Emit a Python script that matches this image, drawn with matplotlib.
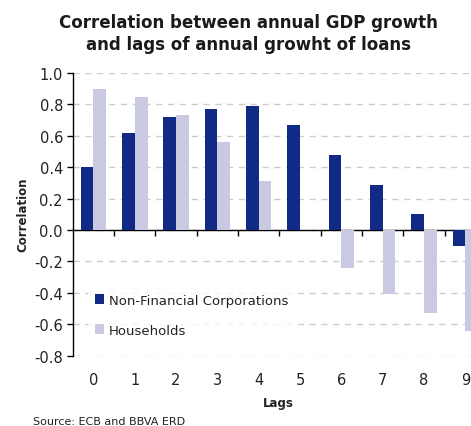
import matplotlib
matplotlib.use("Agg")
import matplotlib.pyplot as plt
import numpy as np
from matplotlib.patches import Patch
import matplotlib.transforms as mtransforms

lags = [0, 1, 2, 3, 4, 5, 6, 7, 8, 9]
nfc = [0.40, 0.62, 0.72, 0.77, 0.79, 0.67, 0.48, 0.29, 0.10, -0.10]
households = [0.90, 0.85, 0.73, 0.56, 0.31, 0.005, -0.24, -0.41, -0.53, -0.64]
yticks = [1.0, 0.8, 0.6, 0.4, 0.2, 0.0, -0.2, -0.4, -0.6, -0.8]

dark = "#102a86"
light = "#c9c9e1"

plt.rcParams['font.family'] = ['DejaVu Sans']
fig = plt.figure(figsize=(4.71, 4.27), dpi=100)
W, H = 471, 427
# axes: left 72.7px, right ~486px, top 74px, bottom 356.7px
ax = fig.add_axes([72.7 / W, 1 - 356.7 / H, (486 - 72.7) / W, (356.7 - 74) / H])

x = np.arange(len(lags))
bw = 0.31
ax.bar(x - bw / 2, nfc, bw, color=dark, edgecolor="none", zorder=3)
ax.bar(x + bw / 2, households, bw, color=light, edgecolor="none", zorder=3)

ax.set_xlim(-0.5, len(lags) - 0.5)
ax.set_ylim(-0.8, 1.0)
ax.set_yticks(yticks)
ax.set_yticklabels([f"{v:.1f}" for v in yticks], fontsize=10.5, color="#222222")
ax.yaxis.grid(True, linestyle=(0, (4.5, 4)), color="#cccccc", linewidth=1.0, zorder=0)
ax.set_axisbelow(True)

for s in ["top", "right"]:
    ax.spines[s].set_visible(False)
ax.spines["bottom"].set_position(("data", 0))
ax.spines["left"].set_linewidth(1.0)
ax.spines["bottom"].set_linewidth(1.0)
ax.tick_params(axis="y", direction="out", length=4, width=1, pad=3)
ax.set_xticks(np.arange(0.5, len(lags) - 0.5, 1.0))
ax.set_xticklabels([])
ax.tick_params(axis="x", direction="out", length=4, width=1)

trans = mtransforms.blended_transform_factory(ax.transData, fig.transFigure)
for i, lag in enumerate(lags):
    ax.text(i, 1 - 381 / H, str(lag), transform=trans, ha="center", va="center",
            fontsize=10.5, color="#222222", clip_on=False)

fig.text(278 / W, 1 - 404 / H, "Lags", ha="center", va="center",
         fontsize=8.5, fontweight="bold", color="#222222")
fig.text(22.7 / W, 1 - 215 / H, "Correlation", rotation=90, ha="center", va="center",
         fontsize=8.5, fontweight="bold", color="#222222")
fig.text(248 / W, 1 - 23 / H, "Correlation between annual GDP growth", ha="center",
         va="center", fontsize=12.0, fontweight="bold", color="#1a1a1a")
fig.text(248 / W, 1 - 45.5 / H, "and lags of annual growht of loans", ha="center",
         va="center", fontsize=12.0, fontweight="bold", color="#1a1a1a")
fig.text(33 / W, 1 - 422 / H, "Source: ECB and BBVA ERD", ha="left", va="center",
         fontsize=8, color="#222222")

handles = [Patch(facecolor=dark, edgecolor="none"), Patch(facecolor=light, edgecolor="none")]
leg = ax.legend(handles, ["Non-Financial Corporations", "Households"],
                loc="upper left", bbox_to_anchor=(88 / W, 1 - 288 / H),
                bbox_transform=fig.transFigure, frameon=True, fontsize=9.5,
                handlelength=0.75, handleheight=0.75, handletextpad=0.35,
                labelspacing=1.3, borderpad=0.5, borderaxespad=0)
leg.get_frame().set_facecolor("white")
leg.get_frame().set_edgecolor("none")
leg.get_frame().set_boxstyle("square", pad=0)
leg.set_zorder(2)
for t in leg.get_texts():
    t.set_color("#222222")

fig.savefig("out.png", dpi=100)
